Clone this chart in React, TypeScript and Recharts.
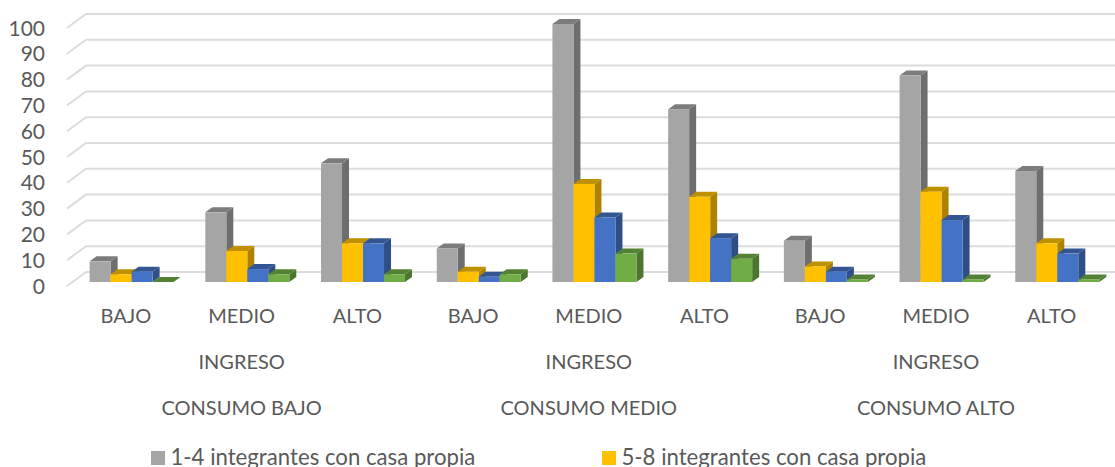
import React from "react";
import { BarChart, Bar, XAxis, YAxis, CartesianGrid, Legend } from "recharts";

const ingresos = ["BAJO", "MEDIO", "ALTO", "BAJO", "MEDIO", "ALTO", "BAJO", "MEDIO", "ALTO"];
const consumos = ["CONSUMO BAJO", "CONSUMO MEDIO", "CONSUMO ALTO"];
const gris = [8, 27, 46, 13, 100, 67, 16, 80, 43];
const amarillo = [3, 12, 15, 4, 38, 33, 6, 35, 15];
const azul = [4, 5, 15, 2, 25, 17, 4, 24, 11];
const verde = [0, 3, 3, 3, 11, 9, 1, 1, 1];
const yTicks = [0, 10, 20, 30, 40, 50, 60, 70, 80, 90, 100];
const nombre1 = "1-4 integrantes con casa propia";
const nombre2 = "5-8 integrantes con casa propia";

const data = ingresos.map((ingreso, i) => ({
  key: i,
  ingreso,
  a: gris[i],
  b: amarillo[i],
  c: azul[i],
  d: verde[i],
}));

const FONT = "Lato, Carlito, Calibri, sans-serif";
const TEXT = "#595959";
const DX = 7;
const DY = 5;

const bar3D = (front: string, side: string, top: string) => (props: any) => {
  const { x, y, width, height } = props;
  const b = y + height;
  const r = x + width;
  return (
    <g>
      <polygon points={`${r},${y} ${r + DX},${y - DY} ${r + DX},${b - DY} ${r},${b}`} fill={side} />
      <polygon points={`${x},${y} ${x + DX},${y - DY} ${r + DX},${y - DY} ${r},${y}`} fill={top} />
      <rect x={x} y={y} width={width} height={height} fill={front} />
    </g>
  );
};

const gridLine = (props: any) => {
  const { y1, x2 } = props;
  return (
    <polyline
      key={`g-${y1}`}
      points={`67,${y1 + 4} 86,${y1 - 10} ${x2},${y1 - 10}`}
      fill="none"
      stroke="#dcdcdc"
      strokeWidth={2}
    />
  );
};

const YTick = (props: any) => {
  const { y, payload } = props;
  return (
    <text x={45} y={y + 4} dy="0.36em" textAnchor="end" fontFamily={FONT} fontSize={21} fill={TEXT}>
      {payload.value}
    </text>
  );
};

const XTick = (props: any) => {
  const { x, payload, index } = props;
  const group = Math.floor(index / 3);
  const label = ingresos[index];
  return (
    <g fontFamily={FONT} fontSize={20} fill={TEXT} textAnchor="middle">
      <text x={x - 5.5} y={316} dy="0.36em">{label}</text>
      {index % 3 === 1 && <text x={x - 5.5} y={362} dy="0.36em">INGRESO</text>}
      {index % 3 === 1 && <text x={x - 5.5} y={408} dy="0.36em">{consumos[group]}</text>}
    </g>
  );
};

const LegendContent = (props: any) => {
  const items = (props.payload || []).filter((it: any) => it.type !== "none");
  const lefts = [151, 602];
  return (
    <div style={{ position: "relative", height: 0, width: 1115 }}>
      {items.map((it: any, i: number) => (
        <div key={i}>
          <div style={{ position: "absolute", left: lefts[i], top: 6, width: 14, height: 14, background: it.color }} />
          <div
            style={{
              position: "absolute",
              left: lefts[i] + 19.5,
              top: 0,
              whiteSpace: "nowrap",
              fontFamily: FONT,
              fontSize: 22.2,
              lineHeight: "24px",
              color: TEXT,
            }}
          >
            {it.value}
          </div>
        </div>
      ))}
    </div>
  );
};

export default function App() {
  return (
    <div style={{ position: "absolute", left: 0, top: 0, width: 1115, height: 467, overflow: "hidden", background: "#fff" }}>
      <BarChart
        width={1115}
        height={467}
        data={data}
        margin={{ top: 24, right: 0, bottom: 0, left: 0 }}
        barGap={0}
        barSize={21}
      >
        <CartesianGrid horizontal={gridLine} vertical={false} />
        <XAxis dataKey="key" height={185} tick={<XTick />} tickLine={false} axisLine={false} interval={0} />
        <YAxis width={73.6} domain={[0, 100]} ticks={yTicks} tick={<YTick />} tickLine={false} axisLine={false} />
        <Legend
          content={<LegendContent />}
          wrapperStyle={{ left: 0, top: 445, bottom: "auto", width: 1115 }}
        />
        <Bar dataKey="a" name={nombre1} fill="#A5A5A5" isAnimationActive={false} shape={bar3D("#A5A5A5", "#6E6E6E", "#7C7C7C")} />
        <Bar dataKey="b" name={nombre2} fill="#FFC000" isAnimationActive={false} shape={bar3D("#FFC000", "#AD8200", "#BF9000")} />
        <Bar dataKey="c" legendType="none" fill="#4472C4" isAnimationActive={false} shape={bar3D("#4472C4", "#2E4E85", "#335693")} />
        <Bar dataKey="d" legendType="none" fill="#70AD47" isAnimationActive={false} shape={bar3D("#70AD47", "#4C7530", "#548235")} />
      </BarChart>
    </div>
  );
}
